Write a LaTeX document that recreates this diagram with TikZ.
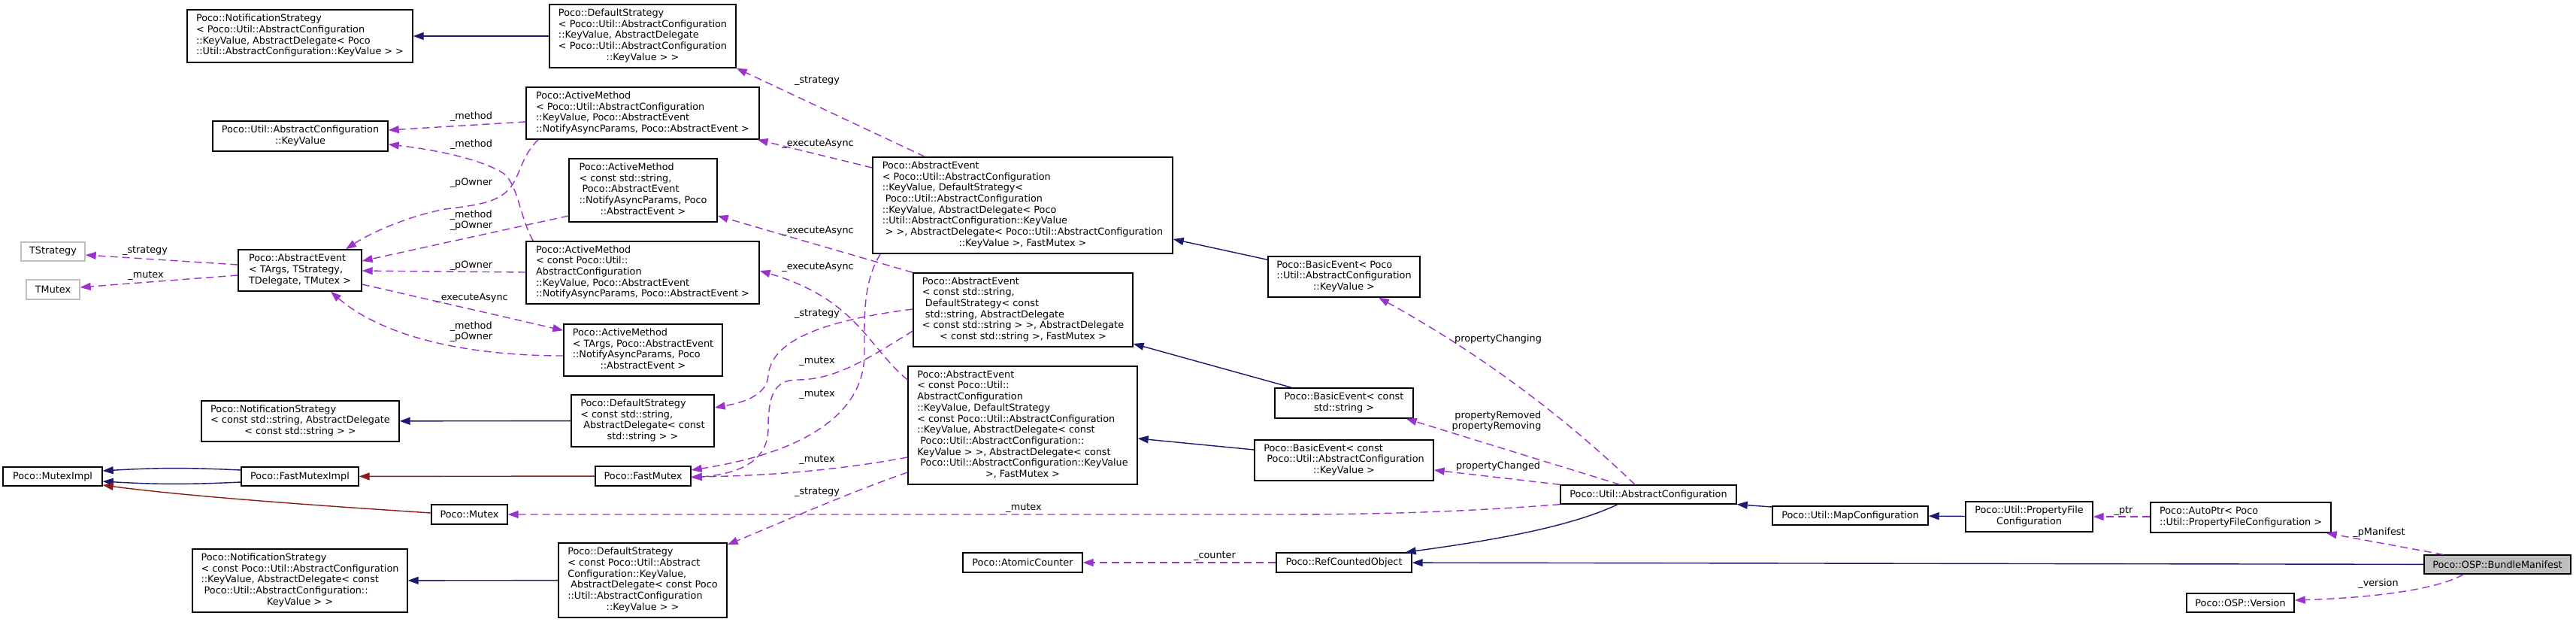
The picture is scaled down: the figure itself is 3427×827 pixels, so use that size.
\documentclass[tikz,border=0pt]{standalone}
\usepackage{fontspec}
\setmainfont{DejaVu Sans}
\usetikzlibrary{arrows.meta,calc}
\definecolor{edgeinh}{HTML}{191970}
\definecolor{edgepriv}{HTML}{8B1A1A}
\definecolor{edgeuse}{HTML}{9A32CD}
\definecolor{nodegray}{HTML}{BFBFBF}
\newcommand{\lastrow}[1]{\multicolumn{1}{@{}c@{}}{#1}}
\newcommand{\cltext}[1]{\begin{tabular}{@{}l@{}}#1\end{tabular}}
\tikzset{
  cls/.style={draw=black, fill=white, line width=1.4bp, inner sep=0pt,
    font=\fontsize{12.8bp}{14.7bp}\selectfont},
  sz/.style 2 args={minimum width=#1bp, minimum height=#2bp},
  lbl/.style={inner sep=0pt, font=\fontsize{12.8bp}{14.7bp}\selectfont},
  inh/.style={draw=edgeinh, line width=1.4bp, -{Triangle[length=14bp,width=10bp]}},
  priv/.style={draw=edgepriv, line width=1.4bp, -{Triangle[length=14bp,width=10bp]}},
  use/.style={draw=edgeuse, line width=1.4bp, dash pattern=on 10bp off 6bp,
    -{Triangle[length=14bp,width=10bp]}}
}

\begin{document}
\begin{tikzpicture}[x=1bp, y=-1bp]
\path[use as bounding box, fill=white] (0,0) rectangle (3427,827);

% classes
\node[cls,sz={300}{70}] (ns1) at (399,48) {\cltext{Poco::NotificationStrategy\\< Poco::Util::AbstractConfiguration\\::KeyValue, AbstractDelegate< Poco\\::Util::AbstractConfiguration::KeyValue > >}};
\node[cls,sz={248}{84}] (ds1) at (855,48) {\cltext{Poco::DefaultStrategy\\< Poco::Util::AbstractConfiguration\\::KeyValue, AbstractDelegate\\< Poco::Util::AbstractConfiguration\\\lastrow{::KeyValue > >}}};
\node[cls,sz={233}{40}] (kv) at (399.5,181) {\cltext{Poco::Util::AbstractConfiguration\\\lastrow{::KeyValue}}};
\node[cls,sz={310}{69}] (am1) at (855,150.5) {\cltext{Poco::ActiveMethod\\< Poco::Util::AbstractConfiguration\\::KeyValue, Poco::AbstractEvent\\::NotifyAsyncParams, Poco::AbstractEvent >}};
\node[cls,sz={197}{84}] (am2) at (855.5,253) {\cltext{Poco::ActiveMethod\\< const std::string,\\\ Poco::AbstractEvent\\::NotifyAsyncParams, Poco\\\lastrow{::AbstractEvent >}}};
\node[cls,sz={310}{83}] (am3) at (855,362.5) {\cltext{Poco::ActiveMethod\\< const Poco::Util::\\AbstractConfiguration\\::KeyValue, Poco::AbstractEvent\\::NotifyAsyncParams, Poco::AbstractEvent >}};
\node[cls,draw=nodegray,sz={85}{25}] (tst) at (70.5,334.5) {TStrategy};
\node[cls,draw=nodegray,sz={71}{26}] (tmx) at (70.5,385) {TMutex};
\node[cls,sz={164}{55}] (aet) at (399,359.5) {\cltext{Poco::AbstractEvent\\< TArgs, TStrategy,\\\lastrow{TDelegate, TMutex >}}};
\node[cls,sz={211}{69}] (am4) at (855.5,465.5) {\cltext{Poco::ActiveMethod\\< TArgs, Poco::AbstractEvent\\::NotifyAsyncParams, Poco\\\lastrow{::AbstractEvent >}}};
\node[cls,sz={190}{69}] (ds2) at (855,559.5) {\cltext{Poco::DefaultStrategy\\< const std::string,\\\ AbstractDelegate< const\\\lastrow{std::string > >}}};
\node[cls,sz={263}{54}] (ns2) at (399.5,560) {\cltext{Poco::NotificationStrategy\\< const std::string, AbstractDelegate\\\lastrow{< const std::string > >}}};
\node[cls,sz={132}{25}] (mi) at (70,633.5) {Poco::MutexImpl};
\node[cls,sz={156}{25}] (fmi) at (399,633.5) {Poco::FastMutexImpl};
\node[cls,sz={127}{26}] (fm) at (855.5,633) {Poco::FastMutex};
\node[cls,sz={101}{26}] (mx) at (624.5,684) {Poco::Mutex};
\node[cls,sz={286}{84}] (ns3) at (399,772) {\cltext{Poco::NotificationStrategy\\< const Poco::Util::AbstractConfiguration\\::KeyValue, AbstractDelegate< const\\\ Poco::Util::AbstractConfiguration::\\\lastrow{KeyValue > >}}};
\node[cls,sz={224}{99}] (ds3) at (855,771.5) {\cltext{Poco::DefaultStrategy\\< const Poco::Util::Abstract\\Configuration::KeyValue,\\\ AbstractDelegate< const Poco\\::Util::AbstractConfiguration\\\lastrow{::KeyValue > >}}};
\node[cls,sz={399}{128}] (ae1) at (1360.5,273) {\cltext{Poco::AbstractEvent\\< Poco::Util::AbstractConfiguration\\::KeyValue, DefaultStrategy<\\\ Poco::Util::AbstractConfiguration\\::KeyValue, AbstractDelegate< Poco\\::Util::AbstractConfiguration::KeyValue\\\ > >, AbstractDelegate< Poco::Util::AbstractConfiguration\\\lastrow{::KeyValue >, FastMutex >}}};
\node[cls,sz={292}{98}] (ae2) at (1361,412) {\cltext{Poco::AbstractEvent\\< const std::string,\\\ DefaultStrategy< const\\\ std::string, AbstractDelegate\\< const std::string > >, AbstractDelegate\\\lastrow{< const std::string >, FastMutex >}}};
\node[cls,sz={305}{157}] (ae3) at (1360.5,565.5) {\cltext{Poco::AbstractEvent\\< const Poco::Util::\\AbstractConfiguration\\::KeyValue, DefaultStrategy\\< const Poco::Util::AbstractConfiguration\\::KeyValue, AbstractDelegate< const\\\ Poco::Util::AbstractConfiguration::\\KeyValue > >, AbstractDelegate< const\\\ Poco::Util::AbstractConfiguration::KeyValue\\\lastrow{>, FastMutex >}}};
\node[cls,sz={159}{26}] (atc) at (1360.5,748) {Poco::AtomicCounter};
\node[cls,sz={202}{54}] (be1) at (1788,368) {\cltext{Poco::BasicEvent< Poco\\::Util::AbstractConfiguration\\\lastrow{::KeyValue >}}};
\node[cls,sz={184}{40}] (be2) at (1788,536) {\cltext{Poco::BasicEvent< const\\\lastrow{std::string >}}};
\node[cls,sz={238}{54}] (be3) at (1788,612) {\cltext{Poco::BasicEvent< const\\\ Poco::Util::AbstractConfiguration\\\lastrow{::KeyValue >}}};
\node[cls,sz={180}{26}] (rco) at (1788,748) {Poco::RefCountedObject};
\node[cls,sz={234}{25}] (ac) at (2193,657.5) {Poco::Util::AbstractConfiguration};
\node[cls,sz={207}{25}] (mc) at (2461.5,685.5) {Poco::Util::MapConfiguration};
\node[cls,sz={169}{40}] (pf) at (2699.5,687) {\cltext{Poco::Util::PropertyFile\\\lastrow{Configuration}}};
\node[cls,sz={240}{40}] (ap) at (2981,688) {\cltext{Poco::AutoPtr< Poco\\::Util::PropertyFileConfiguration >}};
\node[cls,fill=nodegray,sz={195}{25}] (bm) at (3322.5,750.5) {Poco::OSP::BundleManifest};
\node[cls,sz={143}{25}] (ver) at (2980.5,801.5) {Poco::OSP::Version};

% inheritance
\draw[inh] (ds1) -- (ns1);
\draw[inh] ($(be1.north west)+(0,5)$) -- (ae1.east |- 0,318);
\draw[inh] ($(be2.north west)+(23,0)$) -- (ae2.east |- 0,457);
\draw[inh] (be3.west |- 0,598) -- (ae3.east |- 0,583);
\draw[inh] (ds2) -- (ns2);
\draw[inh] (ds3) -- (ns3);
\draw[inh] (fmi.west |- 0,625) to[bend right=3] (mi.east |- 0,626);
\draw[inh] (fmi.west |- 0,641) to[bend left=3] (mi.east |- 0,640);
\draw[priv] (fm) -- (fmi);
\draw[priv] (mx.west |- 0,682) .. controls (420,672) and (250,660) .. (mi.east |- 0,645);
\draw[inh] ($(ac.south)+(-41,0)$) .. controls (2090,700) and (1990,718) .. ($(rco.north east)+(-9,0)$);
\draw[inh] (mc.west |- 0,674) -- (ac.south east);
\draw[inh] (pf) -- (mc);
\draw[inh] (bm) -- (rco);

% members
\draw[use] ($(ae1.north west)+(70,0)$) -- (ds1.south east);
\draw[use] (ae1.west |- 0,223) -- ($(am1.south east)+(-3,0)$);
\draw[use] (ae2.north west) -- (am2.east |- 0,287);
\draw[use] (ae3.west |- 0,505) .. controls (1155,462) and (1140,398) .. (am3.east |- 0,360);
\draw[use] (ae2.west |- 0,411) .. controls (1080,428) and (1025,458) .. (1022,500) .. controls (1020,525) and (990,535) .. (ds2.east |- 0,542);
\draw[use] ($(ae1.south west)+(11,0)$) .. controls (1148,375) and (1150,420) .. (1150,470) .. controls (1150,560) and (1050,605) .. (fm.east |- 0,625);
\draw[use] (ae2.west |- 0,440) .. controls (1150,480) and (1110,505) .. (1060,505) .. controls (1028,505) and (1022,530) .. (1022,570) .. controls (1022,612) and (985,630) .. (fm.east |- 0,635);
\draw[use] (ae3.west |- 0,608) .. controls (1100,628) and (1000,633) .. (fm.east |- 0,634);
\draw[use] (ae3.west |- 0,628) .. controls (1130,655) and (1050,690) .. ($(ds3.north east)+(0,3)$);
\draw[use] (ac.south west) .. controls (1950,680) and (1850,684) .. (1700,684) -- (mx.east);
\draw[use] ($(ac.north)+(-18,0)$) .. controls (2075,548) and (1960,465) .. ($(be1.south)+(46,0)$);
\draw[use] ($(ac.north)+(-38,0)$) -- ($(be2.south east)+(-10,0)$);
\draw[use] (ac.north west) -- (be3.east |- 0,625);
\draw[use] (rco) -- (atc);
\draw[use] (ap.west |- 0,687) -- (pf.east |- 0,687);
\draw[use] ($(bm.north west)+(26,0)$) -- ($(ap.south east)+(-7,0)$);
\draw[use] ($(bm.south west)+(53,0)$) .. controls (3240,785) and (3150,795) .. (ver.east |- 0,798);
\draw[use] (am1.west |- 0,162) -- (kv.east |- 0,173);
\draw[use] ($(am3.north west)+(10,0)$) .. controls (692,290) and (690,250) .. (672,232) .. controls (640,210) and (570,198) .. (kv.east |- 0,192);
\draw[use] ($(am1.south west)+(17,0)$) .. controls (695,205) and (692,232) .. (680,248) .. controls (665,268) and (640,272) .. (600,277) .. controls (560,282) and (500,305) .. ($(aet.north)+(61,0)$);
\draw[use] (am2.west |- 0,287) -- (aet.east |- 0,347);
\draw[use] (am3.west |- 0,362) -- (aet.east |- 0,360);
\draw[use] (aet.east |- 0,378) -- ($(am4.north west)+(0,9)$);
\draw[use] (am4.west |- 0,473) .. controls (600,473) and (500,440) .. ($(aet.south)+(41,0)$);
\draw[use] (aet.west |- 0,352) -- (tst.east |- 0,339);
\draw[use] (aet.west |- 0,366) -- (tmx.east |- 0,382);

% member names
\node[lbl] (l1) at (1087,108) {\_strategy};
\node[lbl] (l2) at (1088,191) {\_executeAsync};
\node[lbl] (l3) at (1088,307) {\_executeAsync};
\node[lbl] (l4) at (1088,355) {\_executeAsync};
\node[lbl] (l5) at (1087,418) {\_strategy};
\node[lbl] (l6) at (1087,481) {\_mutex};
\node[lbl] (l7) at (1087,525) {\_mutex};
\node[lbl] (l8) at (1087,612) {\_mutex};
\node[lbl] (l9) at (1087,655) {\_strategy};
\node[lbl] (l10) at (1362,676) {\_mutex};
\node[lbl] (l11) at (1993,451) {propertyChanging};
\node[lbl,align=right] (l12) at (1991,560) {propertyRemoved\\propertyRemoving};
\node[lbl] (l13) at (1993,620) {propertyChanged};
\node[lbl] (l14) at (1616,740) {\_counter};
\node[lbl] (l15) at (2825,680) {\_ptr};
\node[lbl] (l16) at (3165,708) {\_pManifest};
\node[lbl] (l17) at (3164,776) {\_version};
\node[lbl] (l18) at (627,155) {\_method};
\node[lbl] (l19) at (627,192) {\_method};
\node[lbl] (l20) at (627,243) {\_pOwner};
\node[lbl,align=left] (l21) at (627,293) {\_method\\\_pOwner};
\node[lbl] (l22) at (627,353) {\_pOwner};
\node[lbl] (l23) at (628,396) {\_executeAsync};
\node[lbl,align=left] (l24) at (627,441) {\_method\\\_pOwner};
\node[lbl] (l25) at (193,334) {\_strategy};
\node[lbl] (l26) at (194,367) {\_mutex};
\end{tikzpicture}
\end{document}
